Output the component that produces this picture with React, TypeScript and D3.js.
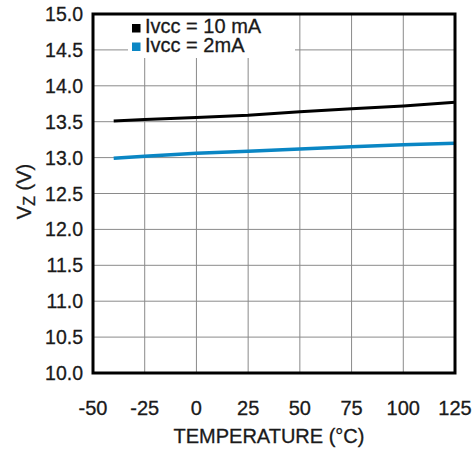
import { useEffect, useRef } from 'react'
import * as d3 from 'd3'

const temps = [-40, -25, 0, 25, 50, 75, 100, 125]
const vz10mA = [13.51, 13.53, 13.56, 13.59, 13.64, 13.68, 13.72, 13.77]
const vz2mA = [12.99, 13.02, 13.06, 13.09, 13.12, 13.15, 13.18, 13.2]
const xTicks = [-50, -25, 0, 25, 50, 75, 100, 125]
const yTicks = [10, 10.5, 11, 11.5, 12, 12.5, 13, 13.5, 14, 14.5, 15]
const seriesNames = ['Ivcc = 10 mA', 'Ivcc = 2mA']
const seriesColors = ['#000000', '#0a86c4']

const FONT = '"Liberation Sans", Arial, sans-serif'

function App() {
  const svgRef = useRef<SVGSVGElement | null>(null)

  useEffect(() => {
    if (!svgRef.current) return
    const width = 475
    const height = 450
    const margin = { top: 14, right: 20, bottom: 77, left: 93 }

    const svg = d3.select(svgRef.current)
    svg.selectAll('*').remove()
    svg.attr('viewBox', `0 0 ${width} ${height}`)

    const x = d3.scaleLinear().domain([-50, 125]).range([margin.left, width - margin.right])
    const y = d3.scaleLinear().domain([10, 15]).range([height - margin.bottom, margin.top])

    const grid = svg.append('g').attr('stroke', '#8a8a8a').attr('stroke-width', 1)
    grid
      .selectAll('line.v')
      .data(xTicks.slice(1, -1))
      .join('line')
      .attr('x1', (d) => x(d))
      .attr('x2', (d) => x(d))
      .attr('y1', y(15))
      .attr('y2', y(10))
    grid
      .selectAll('line.h')
      .data(yTicks.slice(1, -1))
      .join('line')
      .attr('x1', x(-50))
      .attr('x2', x(125))
      .attr('y1', (d) => y(d))
      .attr('y2', (d) => y(d))

    // legend background covers the grid
    svg
      .append('rect')
      .attr('x', 128)
      .attr('y', y(15))
      .attr('width', 167)
      .attr('height', 44)
      .attr('fill', '#fff')

    const line = d3
      .line<number>()
      .x((_, i) => x(temps[i]))
      .y((d) => y(d))

    ;[vz10mA, vz2mA].forEach((series, i) => {
      svg
        .append('path')
        .datum(series)
        .attr('fill', 'none')
        .attr('stroke', seriesColors[i])
        .attr('stroke-width', i === 0 ? 3 : 3.5)
        .attr('d', line)
    })

    svg
      .append('rect')
      .attr('x', x(-50))
      .attr('y', y(15))
      .attr('width', x(125) - x(-50))
      .attr('height', y(10) - y(15))
      .attr('fill', 'none')
      .attr('stroke', '#000')
      .attr('stroke-width', 3)

    const textStyle = (g: d3.Selection<SVGGElement, unknown, null, undefined>, size: number) =>
      g
        .attr('font-family', FONT)
        .attr('font-size', size)
        .attr('fill', '#1a1a1a')
        .attr('stroke', '#1a1a1a')
        .attr('stroke-width', 0.3)

    const legend = textStyle(svg.append('g'), 20)
    seriesNames.forEach((name, i) => {
      const by = 33 + i * 18.5
      legend
        .append('rect')
        .attr('x', 132)
        .attr('y', by - 9)
        .attr('width', 8.5)
        .attr('height', 8.5)
        .attr('fill', seriesColors[i])
        .attr('stroke', 'none')
      legend.append('text').attr('x', 145).attr('y', by).text(name)
    })

    const labels = textStyle(svg.append('g'), 20)
    labels
      .selectAll('text.y')
      .data(yTicks)
      .join('text')
      .attr('x', 83)
      .attr('y', (d) => y(d))
      .attr('dy', '0.36em')
      .attr('text-anchor', 'end')
      .attr('font-size', 19.5)
      .text((d) => d.toFixed(1))
    labels
      .selectAll('text.x')
      .data(xTicks)
      .join('text')
      .attr('x', (d) => x(d))
      .attr('y', 415)
      .attr('text-anchor', 'middle')
      .text((d) => String(d))

    labels
      .append('text')
      .attr('x', (x(-50) + x(125)) / 2 - 5)
      .attr('y', 443)
      .attr('text-anchor', 'middle')
      .text('TEMPERATURE (°C)')

    const yl = labels
      .append('text')
      .attr('transform', `translate(31,${(y(10) + y(15)) / 2 - 2}) rotate(-90)`)
      .attr('text-anchor', 'middle')
    yl.append('tspan').text('V')
    yl.append('tspan').attr('dy', 4).attr('font-size', 16).text('Z')
    yl.append('tspan').attr('dy', -4).text(' (V)')
  }, [])

  return (
    <svg
      ref={svgRef}
      width={475}
      height={450}
      style={{ position: 'absolute', left: 0, top: 0, background: '#fff' }}
    />
  )
}

export default App
